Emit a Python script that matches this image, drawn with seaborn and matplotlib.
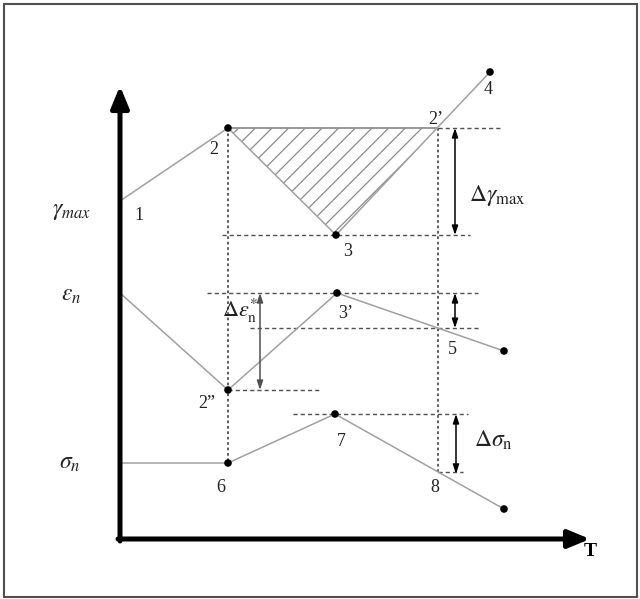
import numpy as np
import pandas as pd
import matplotlib
matplotlib.use("Agg")
import matplotlib.pyplot as plt
import seaborn as sns
from matplotlib.patches import Polygon, Rectangle

sns.set_theme(style="white")
plt.rcParams["font.family"] = ["Liberation Serif", "DejaVu Serif"]
plt.rcParams["mathtext.fontset"] = "stix"
plt.rcParams["hatch.linewidth"] = 0.9
plt.rcParams["hatch.color"] = "#7a7a7a"

# Schematic curves (T along x, response height along y; y grows downward on the page)
gamma_T = [120, 228, 336, 490]
gamma_v = [201, 128, 235, 72]
eps_T = [120, 228, 337, 504]
eps_v = [293, 390, 293, 351]
sig_T = [120, 228, 335, 504]
sig_v = [463, 463, 414, 509]

# Time of the second load step (vertical guide through 2', 5, 8)
T_a = 228
T_b = 438

axis_origin = (118, 539)
axis_y_top = 86
axis_x_end = 590

fig = plt.figure(figsize=(6.40, 5.99), dpi=100)
ax = fig.add_axes([0, 0, 1, 1])
ax.set_xlim(0, 640)
ax.set_ylim(599, 0)
ax.axis("off")

# outer frame
ax.add_patch(Rectangle((4, 3.5), 632.5, 593, fill=False, ec="#505050", lw=1.5))

line_col = "#a0a0a0"
guide_col = "#505050"

# crossing heights on the vertical guide at T_b
g_b = np.interp(T_b, gamma_T[2:], gamma_v[2:])
e_b = np.interp(T_b, eps_T[2:], eps_v[2:])
s_b = np.interp(T_b, sig_T[2:], sig_v[2:])

# hatched area between 2, 3 and 2'
ax.add_patch(Polygon([(gamma_T[1], gamma_v[1]), (gamma_T[2], gamma_v[2]), (T_b, g_b)],
                     closed=True, fill=False, hatch="//", ec="#8a8a8a", lw=0))

# dotted vertical guides
ax.vlines(T_a, gamma_v[1], sig_v[1], colors=guide_col, lw=1.3, linestyles=(0, (1.5, 1.5)))
ax.vlines(T_b, gamma_v[1], s_b + 2, colors=guide_col, lw=1.3, linestyles=(0, (1.5, 1.5)))

dash = (0, (3, 2.2))
# dashed horizontal guides
ax.hlines(gamma_v[1], T_b, 503, colors=guide_col, lw=1, linestyles=dash)
ax.hlines(gamma_v[2], 222, 470, colors=guide_col, lw=1, linestyles=dash)
ax.hlines(eps_v[2], 207, 478, colors=guide_col, lw=1, linestyles=dash)
ax.hlines(e_b, 250, 480, colors=guide_col, lw=1, linestyles=dash)
ax.hlines(eps_v[1], 228, 321, colors=guide_col, lw=1, linestyles=dash)
ax.hlines(sig_v[2], 293, 468, colors=guide_col, lw=1, linestyles=dash)
ax.hlines(s_b, T_b, 463, colors=guide_col, lw=1, linestyles=dash)

# solid top edge of the hatched triangle
ax.hlines(gamma_v[1], gamma_T[1], T_b, colors="#909090", lw=1.3)

# curves
for T, v in [(gamma_T, gamma_v), (eps_T, eps_v), (sig_T, sig_v)]:
    df = pd.DataFrame({"T": T, "v": v})
    sns.lineplot(data=df, x="T", y="v", sort=False, color=line_col, lw=1.1,
                 ax=ax, estimator=None)
    sns.scatterplot(data=df.iloc[1:], x="T", y="v", color="black", s=30,
                    edgecolor="none", ax=ax, zorder=5)
ax.set_xlim(0, 640)
ax.set_ylim(599, 0)
ax.axis("off")

# axes with arrow heads
ax.annotate("", xy=(axis_origin[0] + 2, axis_y_top), xytext=(axis_origin[0] + 2, axis_origin[1] + 2),
            arrowprops=dict(arrowstyle="-|>,head_length=0.65,head_width=0.27", lw=3.6,
                            color="black", mutation_scale=20, shrinkA=0, shrinkB=0))
ax.annotate("", xy=(axis_x_end, axis_origin[1]), xytext=(axis_origin[0], axis_origin[1]),
            arrowprops=dict(arrowstyle="-|>,head_length=0.65,head_width=0.27", lw=3.6,
                            color="black", mutation_scale=20, shrinkA=0, shrinkB=0))

# range arrows
def range_arrow(x, y0, y1, color="black"):
    ax.annotate("", xy=(x, y0), xytext=(x, y1),
                arrowprops=dict(arrowstyle="<|-|>,head_length=0.45,head_width=0.15",
                                lw=1.1, color=color, mutation_scale=12,
                                shrinkA=0, shrinkB=0))

range_arrow(455, gamma_v[1], gamma_v[2])
range_arrow(260, eps_v[2], eps_v[1], color="#505050")
range_arrow(455, eps_v[2], e_b)
range_arrow(456, sig_v[2], s_b + 2)

num_kw = dict(fontsize=13, color="#222222", ha="center", va="center")
ax.text(139, 216, "1", **num_kw)
ax.text(214, 149, "2", **num_kw)
ax.text(348, 251, "3", **num_kw)
ax.text(436, 120, "2\u2019", **num_kw)
ax.text(488, 90, "4", **num_kw)
ax.text(207, 403, "2\u201d", **num_kw)
ax.text(346, 313, "3\u2019", **num_kw)
ax.text(452, 349, "5", **num_kw)
ax.text(221, 488, "6", **num_kw)
ax.text(341, 441, "7", **num_kw)
ax.text(435, 488, "8", **num_kw)

lab_kw = dict(fontsize=17, color="#222222", ha="center", va="center")
ax.text(72, 211, r"$\gamma_{max}$", **lab_kw)
ax.text(71, 295, r"$\varepsilon_n$", **lab_kw)
ax.text(70, 463, r"$\sigma_n$", **lab_kw)
ax.text(497, 195, r"$\Delta\gamma_{\rm max}$", **lab_kw)
ax.text(240, 311, r"$\Delta\varepsilon^{*}_{\rm n}$", fontsize=16, color="#222222",
        ha="center", va="center", zorder=6)
ax.text(493, 440, r"$\Delta\sigma_{\rm n}$", **lab_kw)
ax.text(590, 552, "T", fontsize=14, fontweight="bold", color="black",
        ha="center", va="center")

fig.savefig("out.png", dpi=100)
